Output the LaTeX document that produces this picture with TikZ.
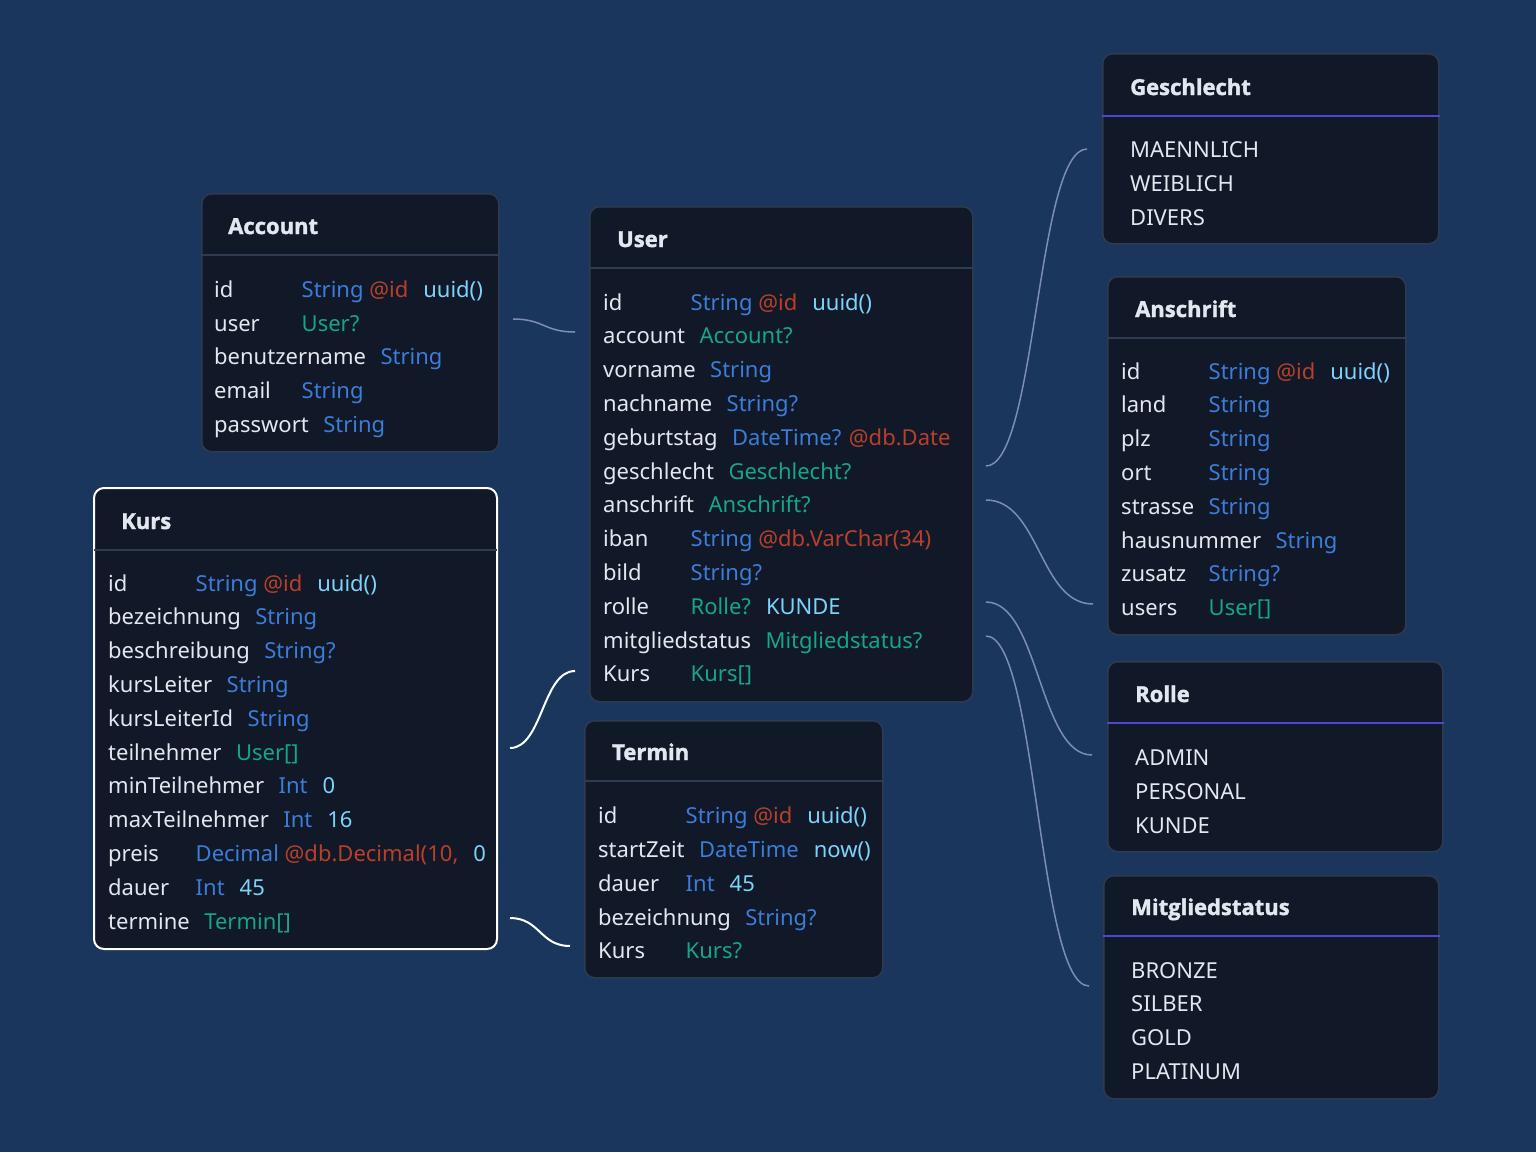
\documentclass[tikz,border=0pt]{standalone}
\usepackage{fontspec}
\setmainfont{Noto Sans}
\newfontfamily\hdrfont{Open Sans}[BoldFeatures={FakeBold=1.6}]
\usetikzlibrary{calc}
\definecolor{cbg}{HTML}{1B365D}
\definecolor{cbox}{HTML}{111827}
\definecolor{cborder}{HTML}{2E3A4E}
\definecolor{cdiv}{HTML}{2F3B50}
\definecolor{cpurple}{HTML}{4F46D5}
\definecolor{ctext}{HTML}{E2E8F0}
\definecolor{ctype}{HTML}{3C7DD9}
\definecolor{cattr}{HTML}{B8402A}
\definecolor{cdef}{HTML}{7DD3FC}
\definecolor{crel}{HTML}{17A589}
\definecolor{cconn}{HTML}{7C8DB0}
\newlength\fldw
\newcommand\fr[2]{\settowidth\fldw{#1}\ifdim\fldw<73pt\makebox[73pt][l]{#1}\else#1\fi\hspace{14.5pt}#2}
\newcommand\ty[1]{\textcolor{ctype}{#1}}
\newcommand\at[1]{\textcolor{cattr}{#1}}
\newcommand\df[1]{\textcolor{cdef}{#1}}
\newcommand\rl[1]{\textcolor{crel}{#1}}
\newcommand\gp{\hspace{15pt}}
\begin{document}
\begin{tikzpicture}[x=1pt,y=-1pt,
 box/.style={draw=cborder, line width=1.5pt, fill=cbox, rounded corners=10pt, anchor=north west, inner sep=0pt},
 hdr/.style={anchor=base west, inner sep=0pt, font=\hdrfont\bfseries\fontsize{22}{26}\selectfont, text=ctext},
 rw/.style={anchor=base west, inner sep=0pt, font=\fontsize{22}{26}\selectfont, text=ctext},
 gdiv/.style={draw=cdiv, line width=1.5pt},
 pdiv/.style={draw=cpurple, line width=2pt},
 conn/.style={draw=cconn, line width=1.5pt},
 connsel/.style={draw=white, line width=2pt}]
\fill[cbg] (0,0) rectangle (1536,1152);
\useasboundingbox (0,0) rectangle (1536,1152);

% ---------- connectors ----------
\coordinate (c1a) at (513,319); \coordinate (c1b) at (575,332);
\coordinate (c2a) at (510,748); \coordinate (c2b) at (575,671);
\coordinate (c3a) at (510,918); \coordinate (c3b) at (570,946);
\coordinate (c4a) at (986,466); \coordinate (c4b) at (1087,149);
\coordinate (c5a) at (986,500); \coordinate (c5b) at (1093,604);
\coordinate (c6a) at (986,602); \coordinate (c6b) at (1092,755);
\coordinate (c7a) at (986,636); \coordinate (c7b) at (1089,986);
\foreach \a/\b/\s in {c1a/c1b/conn, c2a/c2b/connsel, c3a/c3b/connsel, c4a/c4b/conn, c5a/c5b/conn, c6a/c6b/conn, c7a/c7b/conn}{
  \draw[\s] let \p1=(\a), \p2=(\b) in (\a) .. controls ({(\x1+\x2)/2},\y1) and ({(\x1+\x2)/2},\y2) .. (\b);
}

% ---------- Account ----------
\node[box, minimum width=297pt, minimum height=258pt] (account) at (201,193) {};
\draw[gdiv] ($(account.north west)+(0,62)$) -- ($(account.north east)+(0,62)$);
\node[hdr] (accH) at (228,234) {Account};
\node[rw] (acc1) at (214,297) {\fr{id}{\ty{String} \at{@id}\gp\df{uuid()}}};
\node[rw] (acc2) at (214,331) {\fr{user}{\rl{User?}}};
\node[rw] (acc3) at (214,364) {\fr{benutzername}{\ty{String}}};
\node[rw] (acc4) at (214,398) {\fr{email}{\ty{String}}};
\node[rw] (acc5) at (214,432) {\fr{passwort}{\ty{String}}};

% ---------- User ----------
\node[box, minimum width=383pt, minimum height=495pt] (user) at (589,206) {};
\draw[gdiv] ($(user.north west)+(0,62)$) -- ($(user.north east)+(0,62)$);
\node[hdr] (usrH) at (617,247) {User};
\node[rw] (usr1) at (603,310) {\fr{id}{\ty{String} \at{@id}\gp\df{uuid()}}};
\node[rw] (usr2) at (603,343.8) {\fr{account}{\rl{Account?}}};
\node[rw] (usr3) at (603,377.6) {\fr{vorname}{\ty{String}}};
\node[rw] (usr4) at (603,411.4) {\fr{nachname}{\ty{String?}}};
\node[rw] (usr5) at (603,445.2) {\fr{geburtstag}{\ty{DateTime?} \at{@db.Date}}};
\node[rw] (usr6) at (603,479) {\fr{geschlecht}{\rl{Geschlecht?}}};
\node[rw] (usr7) at (603,512.8) {\fr{anschrift}{\rl{Anschrift?}}};
\node[rw] (usr8) at (603,546.6) {\fr{iban}{\ty{String} \at{@db.VarChar(34)}}};
\node[rw] (usr9) at (603,580.4) {\fr{bild}{\ty{String?}}};
\node[rw] (usr10) at (603,614.2) {\fr{rolle}{\rl{Rolle?}\gp\df{KUNDE}}};
\node[rw] (usr11) at (603,648) {\fr{mitgliedstatus}{\rl{Mitgliedstatus?}}};
\node[rw] (usr12) at (603,681.8) {\fr{Kurs}{\rl{Kurs[]}}};

% ---------- Termin ----------
\node[box, minimum width=298pt, minimum height=257pt] (termin) at (584,720) {};
\draw[gdiv] ($(termin.north west)+(0,61)$) -- ($(termin.north east)+(0,61)$);
\node[hdr] (terH) at (612,760) {Termin};
\node[rw] (ter1) at (598,823) {\fr{id}{\ty{String} \at{@id}\gp\df{uuid()}}};
\node[rw] (ter2) at (598,857) {\fr{startZeit}{\ty{DateTime}\gp\df{now()}}};
\node[rw] (ter3) at (598,891) {\fr{dauer}{\ty{Int}\gp\df{45}}};
\node[rw] (ter4) at (598,925) {\fr{bezeichnung}{\ty{String?}}};
\node[rw] (ter5) at (598,958) {\fr{Kurs}{\rl{Kurs?}}};

% ---------- Kurs ----------
\node[box, draw=white, line width=2pt, minimum width=403pt, minimum height=461pt] (kurs) at (93,487) {};
\draw[gdiv] ($(kurs.north west)+(1,63)$) -- ($(kurs.north east)+(-1,63)$);
\node[hdr] (krsH) at (121,529) {Kurs};
\node[rw] (krs1) at (108,591) {\fr{id}{\ty{String} \at{@id}\gp\df{uuid()}}};
\node[rw] (krs2) at (108,624.8) {\fr{bezeichnung}{\ty{String}}};
\node[rw] (krs3) at (108,658.6) {\fr{beschreibung}{\ty{String?}}};
\node[rw] (krs4) at (108,692.4) {\fr{kursLeiter}{\ty{String}}};
\node[rw] (krs5) at (108,726.2) {\fr{kursLeiterId}{\ty{String}}};
\node[rw] (krs6) at (108,760) {\fr{teilnehmer}{\rl{User[]}}};
\node[rw] (krs7) at (108,793.8) {\fr{minTeilnehmer}{\ty{Int}\gp\df{0}}};
\node[rw] (krs8) at (108,827.6) {\fr{maxTeilnehmer}{\ty{Int}\gp\df{16}}};
\node[rw] (krs9) at (108,861.4) {\fr{preis}{\ty{Decimal} \at{@db.Decimal(10,}\gp\df{0}}};
\node[rw] (krs10) at (108,895.2) {\fr{dauer}{\ty{Int}\gp\df{45}}};
\node[rw] (krs11) at (108,929) {\fr{termine}{\rl{Termin[]}}};

% ---------- Geschlecht ----------
\node[box, minimum width=336pt, minimum height=190pt] (geschlecht) at (1102,53) {};
\draw[pdiv] ($(geschlecht.north west)+(0,63)$) -- ($(geschlecht.north east)+(0,63)$);
\node[hdr] (gesH) at (1130,95) {Geschlecht};
\node[rw] (ges1) at (1130,157) {MAENNLICH};
\node[rw] (ges2) at (1130,191) {WEIBLICH};
\node[rw] (ges3) at (1130,225) {DIVERS};

% ---------- Anschrift ----------
\node[box, minimum width=298pt, minimum height=358pt] (anschrift) at (1107,276) {};
\draw[gdiv] ($(anschrift.north west)+(0,62)$) -- ($(anschrift.north east)+(0,62)$);
\node[hdr] (ansH) at (1135,317) {Anschrift};
\node[rw] (ans1) at (1121,379) {\fr{id}{\ty{String} \at{@id}\gp\df{uuid()}}};
\node[rw] (ans2) at (1121,412.8) {\fr{land}{\ty{String}}};
\node[rw] (ans3) at (1121,446.6) {\fr{plz}{\ty{String}}};
\node[rw] (ans4) at (1121,480.4) {\fr{ort}{\ty{String}}};
\node[rw] (ans5) at (1121,514.2) {\fr{strasse}{\ty{String}}};
\node[rw] (ans6) at (1121,548) {\fr{hausnummer}{\ty{String}}};
\node[rw] (ans7) at (1121,581.8) {\fr{zusatz}{\ty{String?}}};
\node[rw] (ans8) at (1121,615.6) {\fr{users}{\rl{User[]}}};

% ---------- Rolle ----------
\node[box, minimum width=335pt, minimum height=190pt] (rolle) at (1107,661) {};
\draw[pdiv] ($(rolle.north west)+(0,62)$) -- ($(rolle.north east)+(0,62)$);
\node[hdr] (rolH) at (1135,702) {Rolle};
\node[rw] (rol1) at (1135,765) {ADMIN};
\node[rw] (rol2) at (1135,799) {PERSONAL};
\node[rw] (rol3) at (1135,833) {KUNDE};

% ---------- Mitgliedstatus ----------
\node[box, minimum width=335pt, minimum height=223pt] (mitglied) at (1103,875) {};
\draw[pdiv] ($(mitglied.north west)+(0,61)$) -- ($(mitglied.north east)+(0,61)$);
\node[hdr] (mitH) at (1131,915) {Mitgliedstatus};
\node[rw] (mit1) at (1131,978) {BRONZE};
\node[rw] (mit2) at (1131,1011.8) {SILBER};
\node[rw] (mit3) at (1131,1045.6) {GOLD};
\node[rw] (mit4) at (1131,1079.4) {PLATINUM};
\end{tikzpicture}
\end{document}
